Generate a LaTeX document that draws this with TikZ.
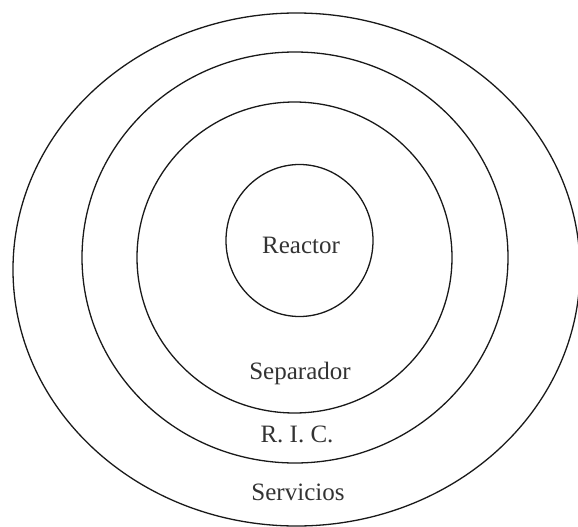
\documentclass[tikz,border=0pt]{standalone}
\usepackage{fontspec}
\setmainfont{Liberation Serif}
\begin{document}
\begin{tikzpicture}[x=1pt,y=-1pt,
  ring/.style={draw=black!90,line width=1.3pt},
  lbl/.style={font=\fontsize{25}{28}\selectfont,text=black!80,anchor=base,inner sep=0pt}]
\useasboundingbox (0,0) rectangle (578,527);
\draw[ring] (296.5,269.5) ellipse [x radius=283.5, y radius=256.5];
\draw[ring] (295,257.5) ellipse [x radius=213, y radius=205.5];
\draw[ring] (294.5,257.5) ellipse [x radius=157.5, y radius=155.5];
\draw[ring] (299.5,240.5) ellipse [x radius=73.5, y radius=76];
\node[lbl] (reactor) at (301,253) {Reactor};
\node[lbl] (sep) at (300,379) {Separador};
\node[lbl] (ric) at (297,442) {R. I. C.};
\node[lbl] (serv) at (298,500) {Servicios};
\end{tikzpicture}
\end{document}
